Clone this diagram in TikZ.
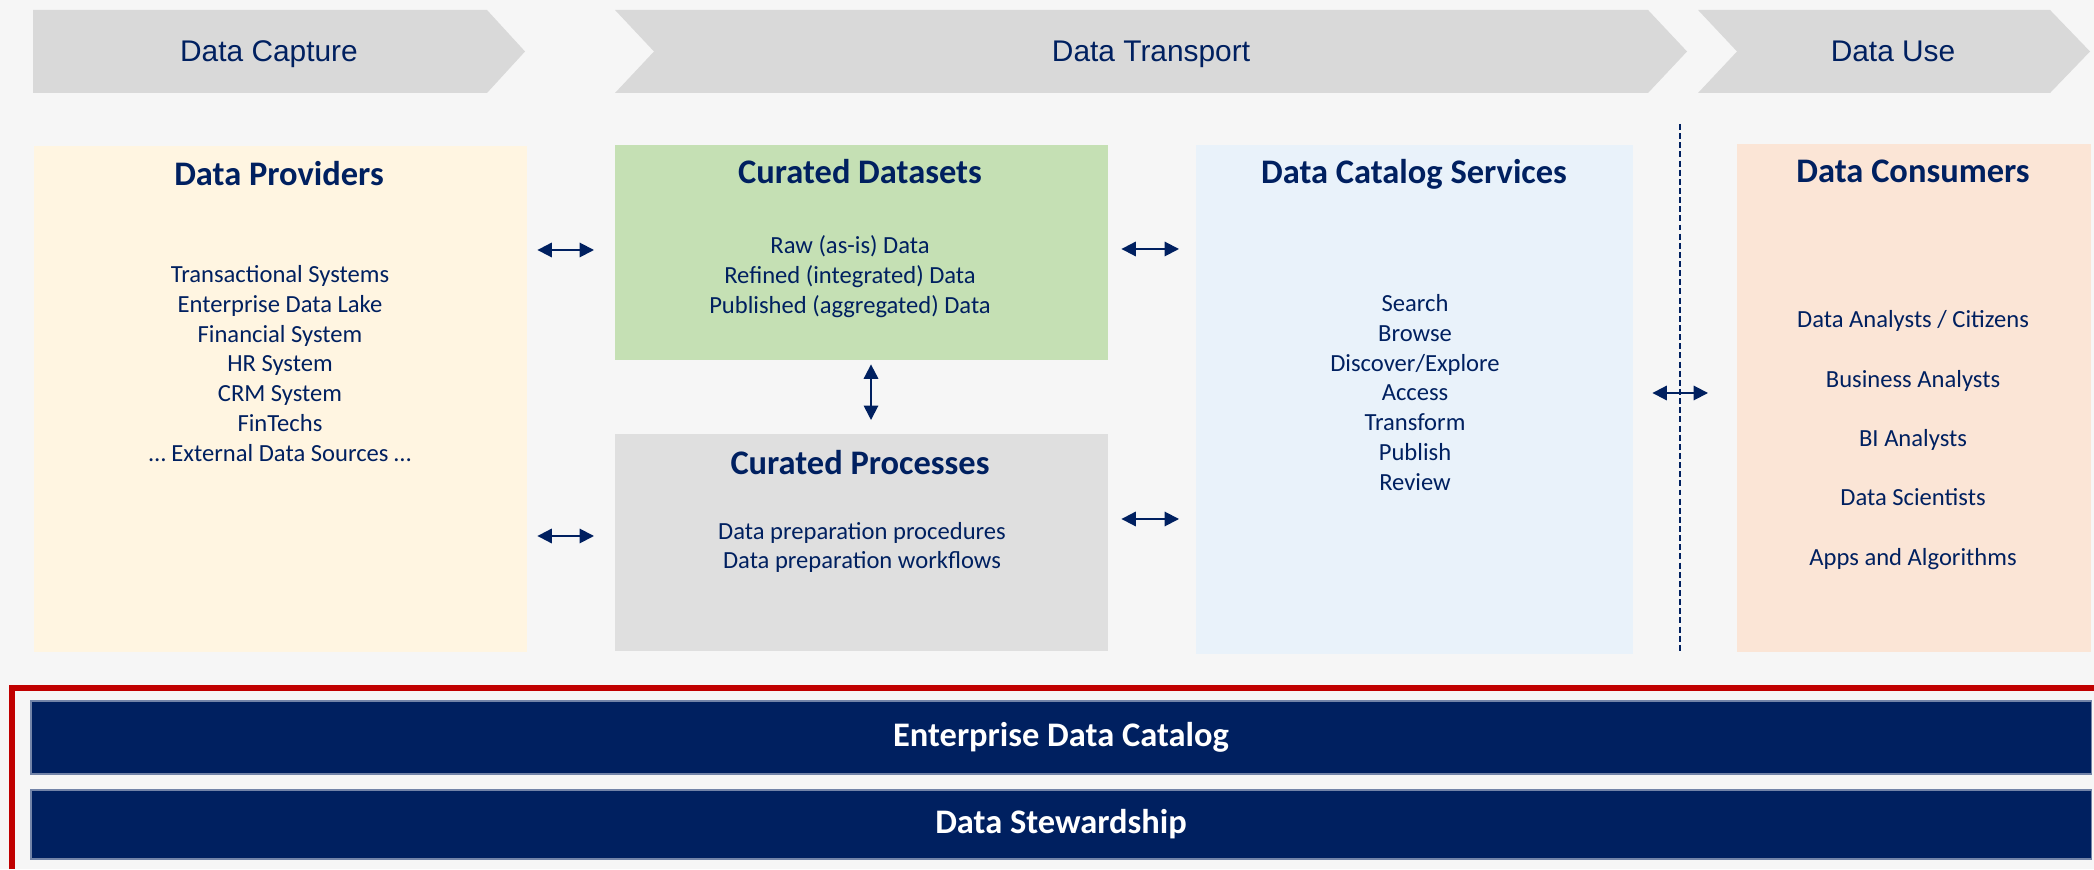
\documentclass[tikz,border=0pt]{standalone}
\usepackage{fontspec}
\setmainfont{Carlito}
\newfontfamily\arialfont{Liberation Sans}
\usepackage{tikz}
\usetikzlibrary{arrows.meta}

\definecolor{navy}{HTML}{002060}
\definecolor{bggray}{HTML}{F6F6F6}
\definecolor{chevgray}{HTML}{D9D9D9}
\definecolor{provcol}{HTML}{FFF5E1}
\definecolor{datacol}{HTML}{C5E0B4}
\definecolor{proccol}{HTML}{DFDFDF}
\definecolor{catcol}{HTML}{E9F2FA}
\definecolor{conscol}{HTML}{FBE5D6}
\definecolor{redline}{HTML}{C00000}

\newcommand{\headfont}{\arialfont\fontsize{8.5}{10}\selectfont}
\newcommand{\boxheadfont}{\bfseries\fontsize{9.8}{11.5}\selectfont}
\newcommand{\itemfont}{\fontsize{7}{8.48}\selectfont}

\begin{document}
\begin{tikzpicture}[
    box/.style={rectangle, inner sep=0pt, anchor=north west},
    heading/.style={font=\boxheadfont, text=navy, anchor=base},
    items/.style={font=\itemfont, text=navy, align=center},
    phase/.style={font=\headfont, text=navy, anchor=base},
    twoway/.style={{Triangle[length=4.1pt,width=4.1pt]}-{Triangle[length=4.1pt,width=4.1pt]}, line width=0.55pt, navy},
    bar/.style={rectangle, fill=navy, draw=navy!55!white, line width=0.3pt, minimum width=20.6cm, inner sep=0pt, text=white, font=\boxheadfont}
]
    \useasboundingbox (0,0) rectangle (20.94,8.69);
    \fill[bggray] (0,0) rectangle (20.94,8.69);

    % phases along the top
    \fill[chevgray] (0.33,8.59) -- (4.87,8.59) -- (5.25,8.175) -- (4.87,7.76) -- (0.33,7.76) -- cycle;
    \fill[chevgray] (6.15,8.59) -- (16.48,8.59) -- (16.87,8.175) -- (16.48,7.76) -- (6.15,7.76) -- (6.54,8.175) -- cycle;
    \fill[chevgray] (16.98,8.59) -- (20.50,8.59) -- (20.90,8.175) -- (20.50,7.76) -- (16.98,7.76) -- (17.37,8.175) -- cycle;
    \node[phase] (capture) at (2.69,8.07) {Data Capture};
    \node[phase] (transport) at (11.51,8.07) {Data Transport};
    \node[phase] (use) at (18.93,8.07) {Data Use};

    % boxes
    \node[box, fill=provcol, minimum width=4.93cm, minimum height=5.06cm] (prov) at (0.33,7.24) {};
    \node[box, fill=datacol, minimum width=4.93cm, minimum height=2.15cm] (cur) at (6.14,7.25) {};
    \node[box, fill=proccol, minimum width=4.93cm, minimum height=2.17cm] (proc) at (6.14,4.36) {};
    \node[box, fill=catcol, minimum width=4.37cm, minimum height=5.09cm] (cat) at (11.95,7.25) {};
    \node[box, fill=conscol, minimum width=3.54cm, minimum height=5.08cm] (cons) at (17.36,7.26) {};

    \node[heading] (provhead) at (2.79,6.83) {Data Providers};
    \node[heading] (curhead) at (8.60,6.85) {Curated Datasets};
    \node[heading] (prochead) at (8.60,3.94) {Curated Processes};
    \node[heading] (cathead) at (14.14,6.85) {Data Catalog Services};
    \node[heading] (conshead) at (19.13,6.86) {Data Consumers};

    \node[items] (provlist) at (2.80,5.055) {Transactional Systems\\ Enterprise Data Lake\\ Financial System\\ HR System\\ CRM System\\ FinTechs\\ \dots\ External Data Sources \dots};
    \node[items] (curlist) at (8.50,5.925) {Raw (as-is) Data\\ Refined (integrated) Data\\ Published (aggregated) Data};
    \node[items] (proclist) at (8.62,3.215) {Data preparation procedures\\ Data preparation workflows};
    \node[items] (catlist) at (14.15,4.765) {Search\\ Browse\\ Discover/Explore\\ Access\\ Transform\\ Publish\\ Review};
    \node[items, font={\fontsize{7}{16.9}\selectfont}] (conslist) at (19.13,4.29) {Data Analysts / Citizens\\ Business Analysts\\ BI Analysts\\ Data Scientists\\ Apps and Algorithms};

    \draw[navy, line width=0.4pt, dash pattern=on 1.7pt off 0.9pt] (16.80,7.45) -- (16.80,2.17);

    % connectors
    \draw[twoway, shorten <=1mm, shorten >=2mm] (prov.east |- 0,6.19) -- (cur.west |- 0,6.19);
    \draw[twoway, shorten <=1mm, shorten >=2mm] (prov.east |- 0,3.33) -- (proc.west |- 0,3.33);
    \draw[twoway, shorten <=1.3mm, shorten >=1.6mm] (cur.east |- 0,6.20) -- (cat.west |- 0,6.20);
    \draw[twoway, shorten <=1.3mm, shorten >=1.6mm] (proc.east |- 0,3.50) -- (cat.west |- 0,3.50);
    \draw[twoway, shorten <=0.4mm, shorten >=1.3mm] (cur.south -| 8.71,0) -- (proc.north -| 8.71,0);
    \draw[twoway, shorten <=1.9mm, shorten >=2.8mm] (cat.east |- 0,4.76) -- (cons.west |- 0,4.76);

    % enterprise layer
    \draw[redline, line width=1.6pt] (0.12,0) -- (0.12,1.81) -- (20.94,1.81);
    \node[bar, minimum height=0.73cm] (edc) at (10.61,1.315) {Enterprise Data Catalog};
    \node[bar, minimum height=0.69cm] (stew) at (10.61,0.445) {Data Stewardship};
\end{tikzpicture}
\end{document}
